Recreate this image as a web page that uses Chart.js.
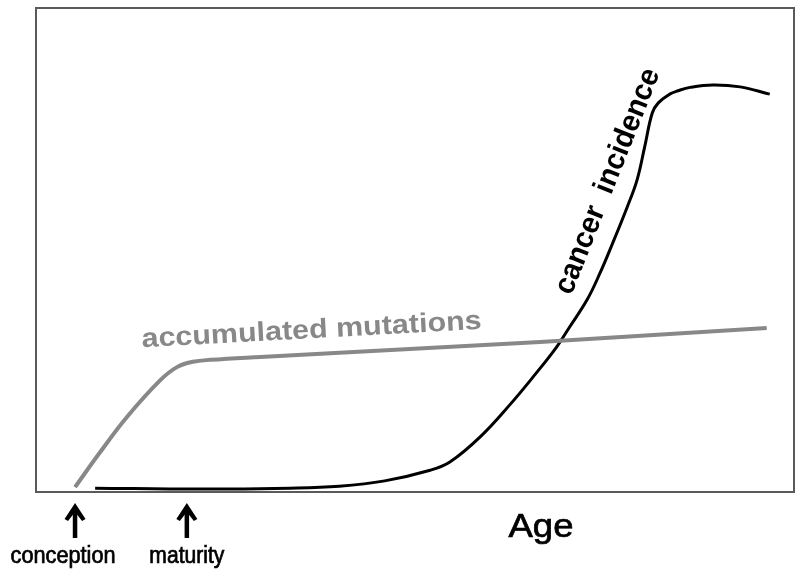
<!DOCTYPE html>
<html>
<head>
<meta charset="utf-8">
<script src="https://cdn.jsdelivr.net/npm/chart.js@4.4.1/dist/chart.umd.min.js"></script>
<style>
  html, body { margin: 0; padding: 0; background: #fff; }
  #wrap { width: 800px; height: 577px; position: relative; }
</style>
</head>
<body>
<div id="wrap"><canvas id="myChart" width="800" height="577"></canvas></div>
<script>
// accumulated mutations (grey curve)
var mutAge   = [5.15, 8.4, 12.0, 16.4, 18.6, 20.7, 23.0, 29.6, 66.5, 96.4];
var mutLevel = [1.0, 8.1, 15.5, 23.1, 25.8, 26.9, 27.3, 27.9, 31.0, 33.9];

// cancer incidence (black curve)
var cancerAge   = [7.8, 21.6, 33.5, 40.0, 46.0, 52.0, 54.6, 58.6, 62.5, 65.8, 68.7, 70.4,
                   72.7, 74.4, 76.1, 78.0, 79.3, 80.3, 81.3, 82.1, 83.6, 84.7, 86.3,
                   89.3, 92.9, 96.8];
var cancerLevel = [0.8, 0.6, 0.8, 1.2, 2.3, 4.5, 6.2, 11.4, 18.0, 24.2, 30.0, 34.1,
                   39.7, 45.2, 51.5, 58.9, 64.5, 71.3, 78.3, 80.4, 82.2, 82.9, 83.6,
                   84.1, 83.7, 82.2];

// marks under the axis
var milestoneNames = ['conception', 'maturity'];
var milestoneAges  = [5.15, 19.9];

var FONT = '"Liberation Sans", Arial, sans-serif';

function toPoints(xs, ys) {
    var pts = [];
    for (var i = 0; i < xs.length; i++) {
        pts.push({ x: xs[i], y: ys[i] });
    }
    return pts;
}

// draws text from p1 to p2 (baseline), stretched to fit the distance
function textAlong(ctx, txt, font, color, x1, y1, x2, y2) {
    var dx = x2 - x1, dy = y2 - y1;
    var len = Math.sqrt(dx * dx + dy * dy);
    ctx.save();
    ctx.font = font;
    ctx.fillStyle = color;
    ctx.textAlign = 'left';
    ctx.textBaseline = 'alphabetic';
    var w = ctx.measureText(txt).width;
    ctx.translate(x1, y1);
    ctx.rotate(Math.atan2(dy, dx));
    ctx.scale(len / w, 1);
    ctx.fillText(txt, 0, 0);
    ctx.restore();
}

function textFit(ctx, txt, font, color, cx, baseY, width) {
    ctx.save();
    ctx.font = font;
    ctx.fillStyle = color;
    ctx.strokeStyle = color;
    ctx.lineWidth = 0.7;
    ctx.textAlign = 'center';
    ctx.textBaseline = 'alphabetic';
    var w = ctx.measureText(txt).width;
    ctx.translate(cx, baseY);
    ctx.scale(width / w, 1);
    ctx.fillText(txt, 0, 0);
    ctx.strokeText(txt, 0, 0);
    ctx.restore();
}

function upArrow(ctx, x, top, bottom) {
    ctx.save();
    ctx.fillStyle = '#000';
    ctx.strokeStyle = '#000';
    ctx.lineWidth = 4.5;
    ctx.beginPath();
    ctx.moveTo(x, top + 8);
    ctx.lineTo(x, bottom);
    ctx.stroke();
    ctx.beginPath();
    ctx.moveTo(x, top);
    ctx.lineTo(x - 10.5, top + 16);
    ctx.lineTo(x - 7, top + 18);
    ctx.lineTo(x, top + 9);
    ctx.lineTo(x + 7, top + 18);
    ctx.lineTo(x + 10.5, top + 16);
    ctx.closePath();
    ctx.fill();
    ctx.restore();
}

const decorPlugin = {
    id: 'decor',
    afterDraw: function(chart) {
        var ctx = chart.ctx;
        var a = chart.chartArea;
        var xs = chart.scales.x, ys = chart.scales.y;

        // frame
        ctx.save();
        ctx.strokeStyle = '#5a5a5a';
        ctx.lineWidth = 2;
        ctx.strokeRect(a.left, a.top, a.right - a.left, a.bottom - a.top);
        ctx.restore();

        // curve labels
        textAlong(ctx, 'accumulated mutations', 'bold 27px ' + FONT, '#888888',
            xs.getPixelForValue(13.98), ys.getPixelForValue(29.9),
            xs.getPixelForValue(58.84), ys.getPixelForValue(33.7));
        textAlong(ctx, 'cancer  incidence', 'bold 30px ' + FONT, '#000',
            xs.getPixelForValue(70.6), ys.getPixelForValue(40.5),
            xs.getPixelForValue(82.3), ys.getPixelForValue(86.6));

        // axis title
        textFit(ctx, 'Age', '34px ' + FONT, '#000', 541, 537, 65);

        // milestones
        var labelShift = [-12, 0];
        var labelWidth = [105, 75];
        for (var i = 0; i < milestoneNames.length; i++) {
            var px = xs.getPixelForValue(milestoneAges[i]);
            upArrow(ctx, px, a.bottom + 11, a.bottom + 46);
            textFit(ctx, milestoneNames[i], '23px ' + FONT, '#000', px + labelShift[i], a.bottom + 71, labelWidth[i]);
        }
    }
};

const data = {
    datasets: [{
        label: 'accumulated mutations',
        data: toPoints(mutAge, mutLevel),
        borderColor: '#888888',
        borderWidth: 4,
        pointRadius: 0,
        tension: 0.4,
        fill: false
    }, {
        label: 'cancer incidence',
        data: toPoints(cancerAge, cancerLevel),
        borderColor: '#000',
        borderWidth: 3,
        pointRadius: 0,
        tension: 0.4,
        fill: false
    }]
};

const config = {
    type: 'line',
    data: data,
    options: {
        responsive: false,
        animation: false,
        events: [],
        layout: { padding: { left: 36, top: 8, right: 6, bottom: 85 } },
        plugins: {
            legend: { display: false },
            tooltip: { enabled: false }
        },
        scales: {
            x: { type: 'linear', min: 0, max: 100, display: false },
            y: { type: 'linear', min: 0, max: 100, display: false }
        }
    },
    plugins: [decorPlugin]
};

const myChart = new Chart(document.getElementById('myChart'), config);
</script>
</body>
</html>
